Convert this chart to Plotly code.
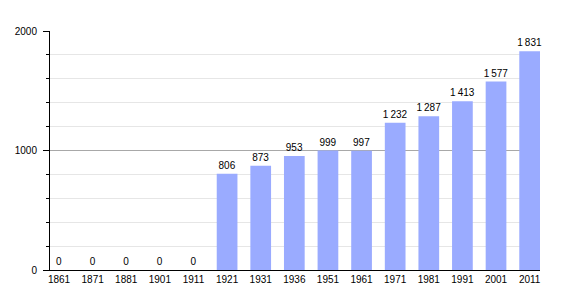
import plotly.graph_objects as go

years = ["1861", "1871", "1881", "1901", "1911", "1921", "1931", "1936",
         "1951", "1961", "1971", "1981", "1991", "2001", "2011"]
population = [0, 0, 0, 0, 0, 806, 873, 953, 999, 997, 1232, 1287, 1413, 1577, 1831]

positions = list(range(len(years)))
labels = [f"{v:,}".replace(",", "\u2009") for v in population]

fig = go.Figure(go.Bar(
    x=positions,
    y=population,
    width=0.616,
    marker=dict(color="#9aabff", line=dict(width=0)),
    text=labels,
    textposition="outside",
    cliponaxis=False,
    textfont=dict(family="Liberation Sans, Arial, sans-serif", size=10, color="#000"),
    hoverinfo="skip",
))

fig.update_layout(
    width=570, height=300,
    margin=dict(l=50, r=30, t=31, b=30),
    paper_bgcolor="white", plot_bgcolor="white",
    showlegend=False,
    font=dict(family="Liberation Sans, Arial, sans-serif", size=10, color="#000"),
    uniformtext=dict(minsize=10, mode="show"),
)

fig.update_xaxes(
    range=[-0.268, 14.308],
    tickvals=positions, ticktext=years,
    showline=True, linecolor="#000", linewidth=1,
    showgrid=False, zeroline=False, ticks="",
    tickfont=dict(size=10, color="#000"),
)

fig.update_yaxes(
    range=[0, 2000],
    tickvals=[0, 1000, 2000],
    showline=True, linecolor="#000", linewidth=1,
    showgrid=True, gridcolor="#a8a8a8", gridwidth=1,
    zeroline=False,
    ticks="outside", ticklen=6, tickcolor="#000",
    ticklabelstandoff=4,
    tickfont=dict(size=10, color="#000"),
    minor=dict(dtick=200, showgrid=True, gridcolor="#e6e6e6", gridwidth=1,
               ticks="outside", ticklen=3, tickcolor="#000"),
)

fig.write_html("out.html")
